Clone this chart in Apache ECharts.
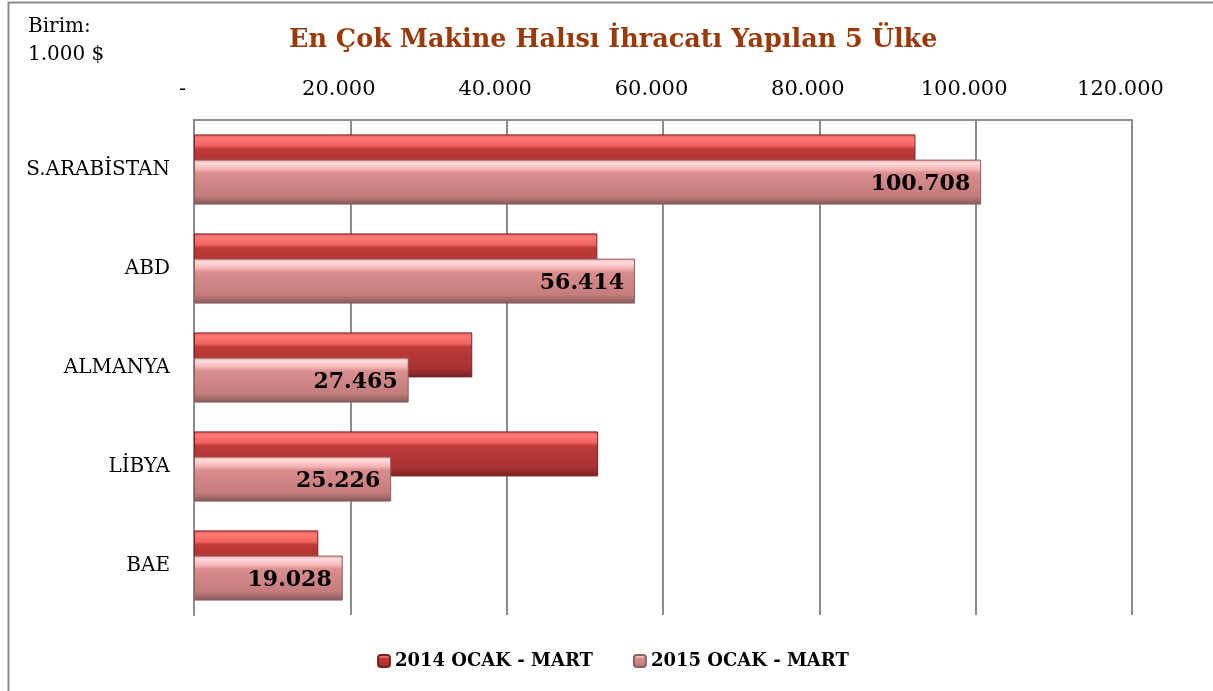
<!DOCTYPE html>
<html>
<head>
<meta charset="utf-8">
<script src="https://cdn.jsdelivr.net/npm/echarts@6/dist/echarts.min.js"></script>
<style>
html,body{margin:0;padding:0;background:#fff;}
#c{width:1213px;height:691px;}
</style>
</head>
<body>
<div id="c"></div>
<script>
var categories = ['S.ARABİSTAN', 'ABD', 'ALMANYA', 'LİBYA', 'BAE'];
var series2014 = [92300, 51600, 35600, 51700, 15900];
var series2015 = [100708, 56414, 27465, 25226, 19028];
var seriesNames = ['2014 OCAK - MART', '2015 OCAK - MART'];
var xTicks = { min: 0, max: 120000, interval: 20000 };

function fmt(v) {
  if (v === 0) return '-';
  return String(Math.round(v)).replace(/\B(?=(\d{3})+(?!\d))/g, '.');
}

var grad2014 = new echarts.graphic.LinearGradient(0, 0, 0, 1, [
  { offset: 0, color: '#D9504E' },
  { offset: 0.08, color: '#FF7A76' },
  { offset: 0.25, color: '#F06460' },
  { offset: 0.32, color: '#BE3A38' },
  { offset: 0.8, color: '#A83232' },
  { offset: 0.92, color: '#8E2828' },
  { offset: 1, color: '#6E2020' }
]);
var grad2015 = new echarts.graphic.LinearGradient(0, 0, 0, 1, [
  { offset: 0, color: '#F0A8A8' },
  { offset: 0.08, color: '#FFDCDC' },
  { offset: 0.22, color: '#F4B4B4' },
  { offset: 0.3, color: '#DA8E8E' },
  { offset: 0.8, color: '#C47C7C' },
  { offset: 0.92, color: '#A06868' },
  { offset: 1, color: '#7E5656' }
]);

var chart = echarts.init(document.getElementById('c'));
chart.setOption({
  animation: false,
  backgroundColor: '#fff',
  graphic: [
    { type: 'rect', shape: { x: 8.5, y: 2.5, width: 1240, height: 720 }, style: { fill: 'none', stroke: '#8C8C8C', lineWidth: 2 }, z: -1 },
    { type: 'text', left: 28, top: 13, style: { text: 'Birim:\n1.000 $', font: '20px "DejaVu Serif"', fill: '#000', lineHeight: 28 } }
  ],
  title: {
    text: 'En Çok Makine Halısı İhracatı Yapılan 5 Ülke',
    left: 284,
    top: 22,
    textStyle: { fontFamily: 'DejaVu Serif', fontWeight: 'bold', fontSize: 25.5, color: '#9A3A0A' }
  },
  legend: {
    bottom: 16,
    left: 372,
    itemWidth: 12,
    itemHeight: 12,
    itemGap: 40,
    data: seriesNames,
    textStyle: { fontFamily: 'DejaVu Serif', fontWeight: 'bold', fontSize: 18, color: '#000' }
  },
  grid: { left: 194, right: 81, top: 120, bottom: 76, containLabel: false },
  xAxis: {
    type: 'value',
    position: 'top',
    min: xTicks.min, max: xTicks.max, interval: xTicks.interval,
    axisLine: { show: true, lineStyle: { color: '#8C8C8C', width: 2 } },
    axisTick: { show: false },
    splitLine: { show: true, lineStyle: { color: '#8C8C8C', width: 2 } },
    axisLabel: { formatter: fmt, margin: 20, padding: [0, 23, 0, 0], fontFamily: 'DejaVu Serif', fontSize: 21, color: '#000' }
  },
  yAxis: {
    type: 'category',
    inverse: true,
    data: categories,
    axisLine: { show: true, lineStyle: { color: '#8C8C8C', width: 2 } },
    axisTick: { show: false },
    axisLabel: { margin: 24, fontFamily: 'DejaVu Serif', fontSize: 20, color: '#000' }
  },
  series: [
    {
      name: seriesNames[0], type: 'bar', data: series2014,
      barWidth: 45, barGap: '-44%',
      itemStyle: { color: grad2014, borderColor: '#7A2424', borderWidth: 1 },
      label: { show: false }
    },
    {
      name: seriesNames[1], type: 'bar', data: series2015,
      barWidth: 45, barGap: '-44%',
      itemStyle: { color: grad2015, borderColor: '#8A6060', borderWidth: 1 },
      label: {
        show: true, position: 'insideRight', offset: [-6, 2],
        formatter: function (p) { return fmt(p.value); },
        fontFamily: 'DejaVu Serif', fontWeight: 'bold', fontSize: 22, color: '#000'
      }
    }
  ]
});
</script>
</body>
</html>
